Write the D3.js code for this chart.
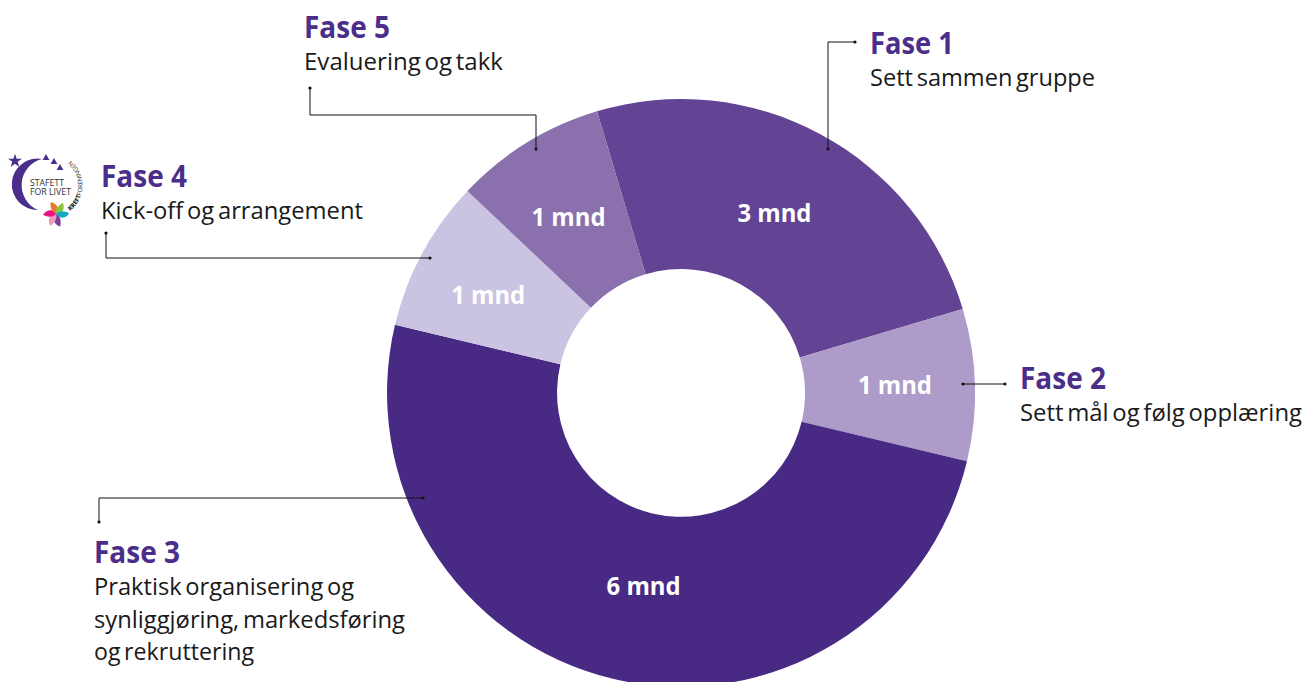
<!DOCTYPE html>
<html>
<head>
<meta charset="utf-8">
<style>
body { margin: 0; background: #fff; }
text { font-family: "Open Sans", sans-serif; }
.fase { font-size: 30px; font-weight: 700; fill: #4b2e8a; }
.desc { font-size: 24px; word-spacing: -2.5px; fill: #1a1a1a; }
.mnd { font-size: 25px; font-weight: 700; fill: #fff; text-anchor: middle; }
</style>
</head>
<body>
<svg width="1304" height="682"></svg>
<script src="https://d3js.org/d3.v7.min.js"></script>
<script>
// chart values
var phases = ["Fase 1", "Fase 2", "Fase 3", "Fase 4", "Fase 5"];
var months = [3, 1, 6, 1, 1];
var monthLabels = ["3 mnd", "1 mnd", "6 mnd", "1 mnd", "1 mnd"];
var descriptions = [
  ["Sett sammen gruppe"],
  ["Sett mål og følg opplæring"],
  ["Praktisk organisering og", "synliggjøring, markedsføring", "og rekruttering"],
  ["Kick-off og arrangement"],
  ["Evaluering og takk"]
];
var colors = ["#634494", "#ad9cc9", "#482a85", "#cbc3e2", "#8a70ad"];

// layout, same order as phases
var labelPos = [[870, 54], [1020, 389], [94, 563], [101, 187], [304, 38]];
var titleWidths = [84, 86, 86, 86, 86];
var descWidths = [[225], [282], [260, 311, 160], [262], [199]];
var mndOffset = [[-6, 4], [5, -2], [11, -10], [-9, 2], [-3, 2]];
var leaders = [
  [[828, 149], [828, 42], [855, 42]],
  [[963, 384], [1005, 384]],
  [[423, 498], [99, 498], [99, 522]],
  [[430, 258], [106, 258], [106, 233]],
  [[536, 149], [536, 115], [310, 115], [310, 88]]
];

var svg = d3.select("svg");
var cx = 681, cy = 393, outer = 294, inner = 124;
var start = -16.6 * Math.PI / 180;

var color = d3.scaleOrdinal().domain(phases).range(colors);
var pie = d3.pie().sort(null).startAngle(start).endAngle(start + 2 * Math.PI)
  .value(function(d, i) { return months[i]; });
var arc = d3.arc().innerRadius(inner).outerRadius(outer);

var g = svg.append("g").attr("transform", "translate(" + cx + "," + cy + ")");
var slices = g.selectAll("g").data(pie(phases)).enter().append("g");
slices.append("path").attr("d", arc).attr("fill", function(d) { return color(d.data); });
slices.append("text").attr("class", "mnd")
  .attr("transform", function(d, i) {
    var c = arc.centroid(d);
    return "translate(" + (c[0] + mndOffset[i][0]) + "," + (c[1] + mndOffset[i][1]) + ")";
  })
  .attr("dy", "0.35em")
  .attr("textLength", 74).attr("lengthAdjust", "spacingAndGlyphs")
  .text(function(d, i) { return monthLabels[i]; });

// leader lines with their little end dots
var line = d3.line();
leaders.forEach(function(pts) {
  svg.append("path").attr("d", line(pts)).attr("fill", "none").attr("stroke", "#111").attr("stroke-width", 1);
  [pts[0], pts[pts.length - 1]].forEach(function(p) {
    svg.append("circle").attr("cx", p[0]).attr("cy", p[1]).attr("r", 1.6).attr("fill", "#111");
  });
});

// labels
phases.forEach(function(name, i) {
  var x = labelPos[i][0], y = labelPos[i][1];
  svg.append("text").attr("class", "fase").attr("x", x).attr("y", y)
    .attr("textLength", titleWidths[i]).attr("lengthAdjust", "spacingAndGlyphs").text(name);
  descriptions[i].forEach(function(t, j) {
    svg.append("text").attr("class", "desc").attr("x", x).attr("y", y + 32 + j * 32.5)
      .attr("textLength", descWidths[i][j]).attr("lengthAdjust", "spacingAndGlyphs").text(t);
  });
});

// Stafett for livet logo
var logo = svg.append("g");
logo.append("path").attr("fill", "#4b2e8a")
  .attr("d", "M42,159 A25.7,25.7 0 1 0 38,210 A27,27 0 0 1 42,159 Z");
var star = d3.symbol().type(d3.symbolStar).size(60);
logo.append("path").attr("d", star()).attr("fill", "#4b2e8a").attr("transform", "translate(15,161)");
var tri = d3.symbol().type(d3.symbolTriangle).size(20);
[[46, 158], [54, 162], [60, 168]].forEach(function(p) {
  logo.append("path").attr("d", tri()).attr("fill", "#4b2e8a").attr("transform", "translate(" + p + ")");
});
logo.append("text").attr("x", 30).attr("y", 186).attr("font-size", 9).attr("fill", "#333")
  .attr("textLength", 34).attr("lengthAdjust", "spacingAndGlyphs").text("STAFETT");
logo.append("text").attr("x", 30).attr("y", 195).attr("font-size", 9).attr("fill", "#333")
  .attr("textLength", 41).attr("lengthAdjust", "spacingAndGlyphs").text("FOR LIVET");
logo.append("path").attr("id", "ring").attr("fill", "none")
  .attr("d", "M70,211 A32,32 0 0 0 65,157");
logo.append("text").attr("font-size", 6.2).attr("fill", "#333")
  .append("textPath").attr("href", "#ring").html('<tspan font-weight="800">KREFT</tspan>FORENINGEN');
var petalColors = ["#e8792b", "#8cc63f", "#12a9c4", "#7b3f98", "#f09ac0", "#e6157f"];
var petalAngles = [-15, 40, 95, 170, 215, 275];
petalColors.forEach(function(c, i) {
  logo.append("path").attr("fill", c)
    .attr("d", "M0,0 C-4,-3 -4,-8 -2,-13 C2,-11 4,-7 3,-4 Z")
    .attr("transform", "translate(56,214) rotate(" + petalAngles[i] + ")");
});
</script>
</body>
</html>
